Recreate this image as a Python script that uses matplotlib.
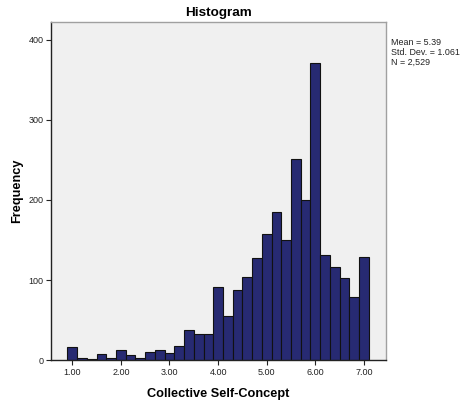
import matplotlib
matplotlib.use("Agg")
import matplotlib.pyplot as plt
import numpy as np

plt.rcParams['font.family'] = ['Liberation Sans', 'DejaVu Sans']

# bin centres (width 0.2) and frequencies
bin_centers = [1.0, 1.2, 1.4, 1.6, 1.8, 2.0, 2.2, 2.4, 2.6, 2.8, 3.0, 3.2, 3.4, 3.6, 3.8,
               4.0, 4.2, 4.4, 4.6, 4.8, 5.0, 5.2, 5.4, 5.6, 5.8, 6.0, 6.2, 6.4, 6.6, 6.8, 7.0]
freq = [16, 2, 1, 7, 2, 12, 6, 3, 10, 12, 9, 17, 37, 33, 33,
        91, 55, 88, 104, 128, 157, 185, 150, 251, 200, 371, 131, 116, 103, 79, 129]
bin_width = 0.2

xticks = [1, 2, 3, 4, 5, 6, 7]
xtick_labels = ["1.00", "2.00", "3.00", "4.00", "5.00", "6.00", "7.00"]
yticks = [0, 100, 200, 300, 400]
stats_text = "Mean = 5.39\nStd. Dev. = 1.061\nN = 2,529"

fig = plt.figure(figsize=(4.62, 4.05), dpi=100)
ax = fig.add_axes([0.1104, 0.1111, 0.7245, 0.8346])
ax.set_facecolor("#F0F0F0")

ax.bar(bin_centers, freq, width=bin_width, color="#272A72",
       edgecolor="#111111", linewidth=0.8, align="center", zorder=2)

ax.set_xlim(0.562, 7.449)
ax.set_ylim(0, 422.5)
ax.set_xticks(xticks)
ax.set_xticklabels(xtick_labels)
ax.set_yticks(yticks)
ax.tick_params(axis="both", direction="out", length=3.5, width=0.8,
               labelsize=6.5, pad=2, colors="#222222")

for side in ["top", "right"]:
    ax.spines[side].set_color("#A0A0A0")
    ax.spines[side].set_linewidth(1.0)
for side in ["left", "bottom"]:
    ax.spines[side].set_color("#222222")
    ax.spines[side].set_linewidth(1.0)

ax.set_title("Histogram", fontsize=9.7, fontweight="bold", pad=4)
ax.set_xlabel("Collective Self-Concept", fontsize=9.2, fontweight="bold", labelpad=8)
ax.set_ylabel("Frequency", fontsize=9.2, fontweight="bold", labelpad=4)

fig.text(391 / 462, 1 - 38 / 405, stats_text, fontsize=6.4, va="top", ha="left",
         linespacing=1.1, color="#222222")

fig.savefig("out.png", dpi=100)
